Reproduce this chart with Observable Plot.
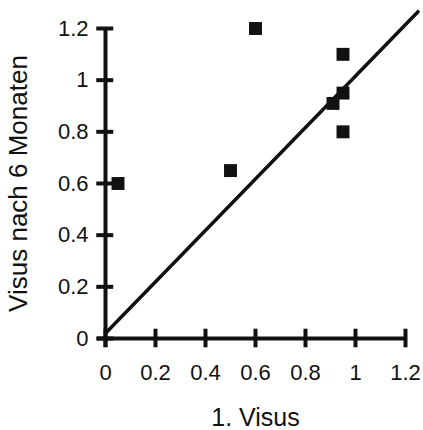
<!DOCTYPE html>
<html>
<head>
<meta charset="utf-8">
<script src="https://cdn.jsdelivr.net/npm/d3@7"></script>
<script src="https://cdn.jsdelivr.net/npm/@observablehq/plot@0.6"></script>
<style>
  html, body { margin: 0; padding: 0; background: #fff; }
  svg { display: block; }
</style>
</head>
<body>
<div id="chart"></div>
<script>
// Data
const visus1 = [0.05, 0.5, 0.6, 0.95, 0.95, 0.91, 0.95];
const visus6 = [0.6, 0.65, 1.2, 1.1, 0.95, 0.91, 0.8];
const lineX = [0, 1.25];
const lineY = [0.02, 1.265];
const xTicks = [0, 0.2, 0.4, 0.6, 0.8, 1, 1.2];
const yTicks = [0, 0.2, 0.4, 0.6, 0.8, 1, 1.2];
const xLabel = "1. Visus";
const yLabel = "Visus nach 6 Monaten";

const points = visus1.map((x, i) => ({x, y: visus6[i]}));
const fitLine = lineX.map((x, i) => ({x, y: lineY[i]}));

const chart = Plot.plot({
  width: 423,
  height: 430,
  marginLeft: 105,
  marginRight: 18,
  marginTop: 28,
  marginBottom: 92,
  style: {fontFamily: "'Liberation Sans', Arial, sans-serif", background: "#fff", color: "#111", overflow: "visible"},
  x: {domain: [0, 1.2]},
  y: {domain: [0, 1.2]},
  marks: [
    // tick labels
    Plot.axisX({ticks: xTicks, tickSize: 0, tickPadding: 26, tickFormat: d => String(d), fontSize: 22, label: null}),
    Plot.axisY({ticks: yTicks, tickSize: 0, tickPadding: 17, tickFormat: d => String(d), fontSize: 22, label: null}),
    // axis titles
    Plot.axisX({ticks: [], tickSize: 0, fontSize: 25,
      label: xLabel, labelAnchor: "center", labelOffset: 87, labelArrow: "none"}),
    Plot.axisY({ticks: [], tickSize: 0, fontSize: 26,
      label: yLabel, labelAnchor: "center", labelOffset: 97, labelArrow: "none"}),
    // axis lines
    Plot.ruleY([0], {x1: -0.032, x2: 1.2, stroke: "#111", strokeWidth: 4}),
    Plot.ruleX([0], {y1: -0.035, y2: 1.2, stroke: "#111", strokeWidth: 4}),
    // crossing tick marks
    Plot.ruleX(xTicks, {x: d => d, y1: -0.036, y2: 0.036, stroke: "#111", strokeWidth: 4}),
    Plot.ruleY(yTicks, {y: d => d, x1: -0.035, x2: 0.033, stroke: "#111", strokeWidth: 4}),
    // regression / diagonal line
    Plot.line(fitLine, {x: "x", y: "y", stroke: "#111", strokeWidth: 3.5}),
    // data points
    Plot.dot(points, {x: "x", y: "y", symbol: "square", r: 7.3, fill: "#111", stroke: "none"})
  ]
});

document.getElementById("chart").append(chart);
</script>
</body>
</html>
